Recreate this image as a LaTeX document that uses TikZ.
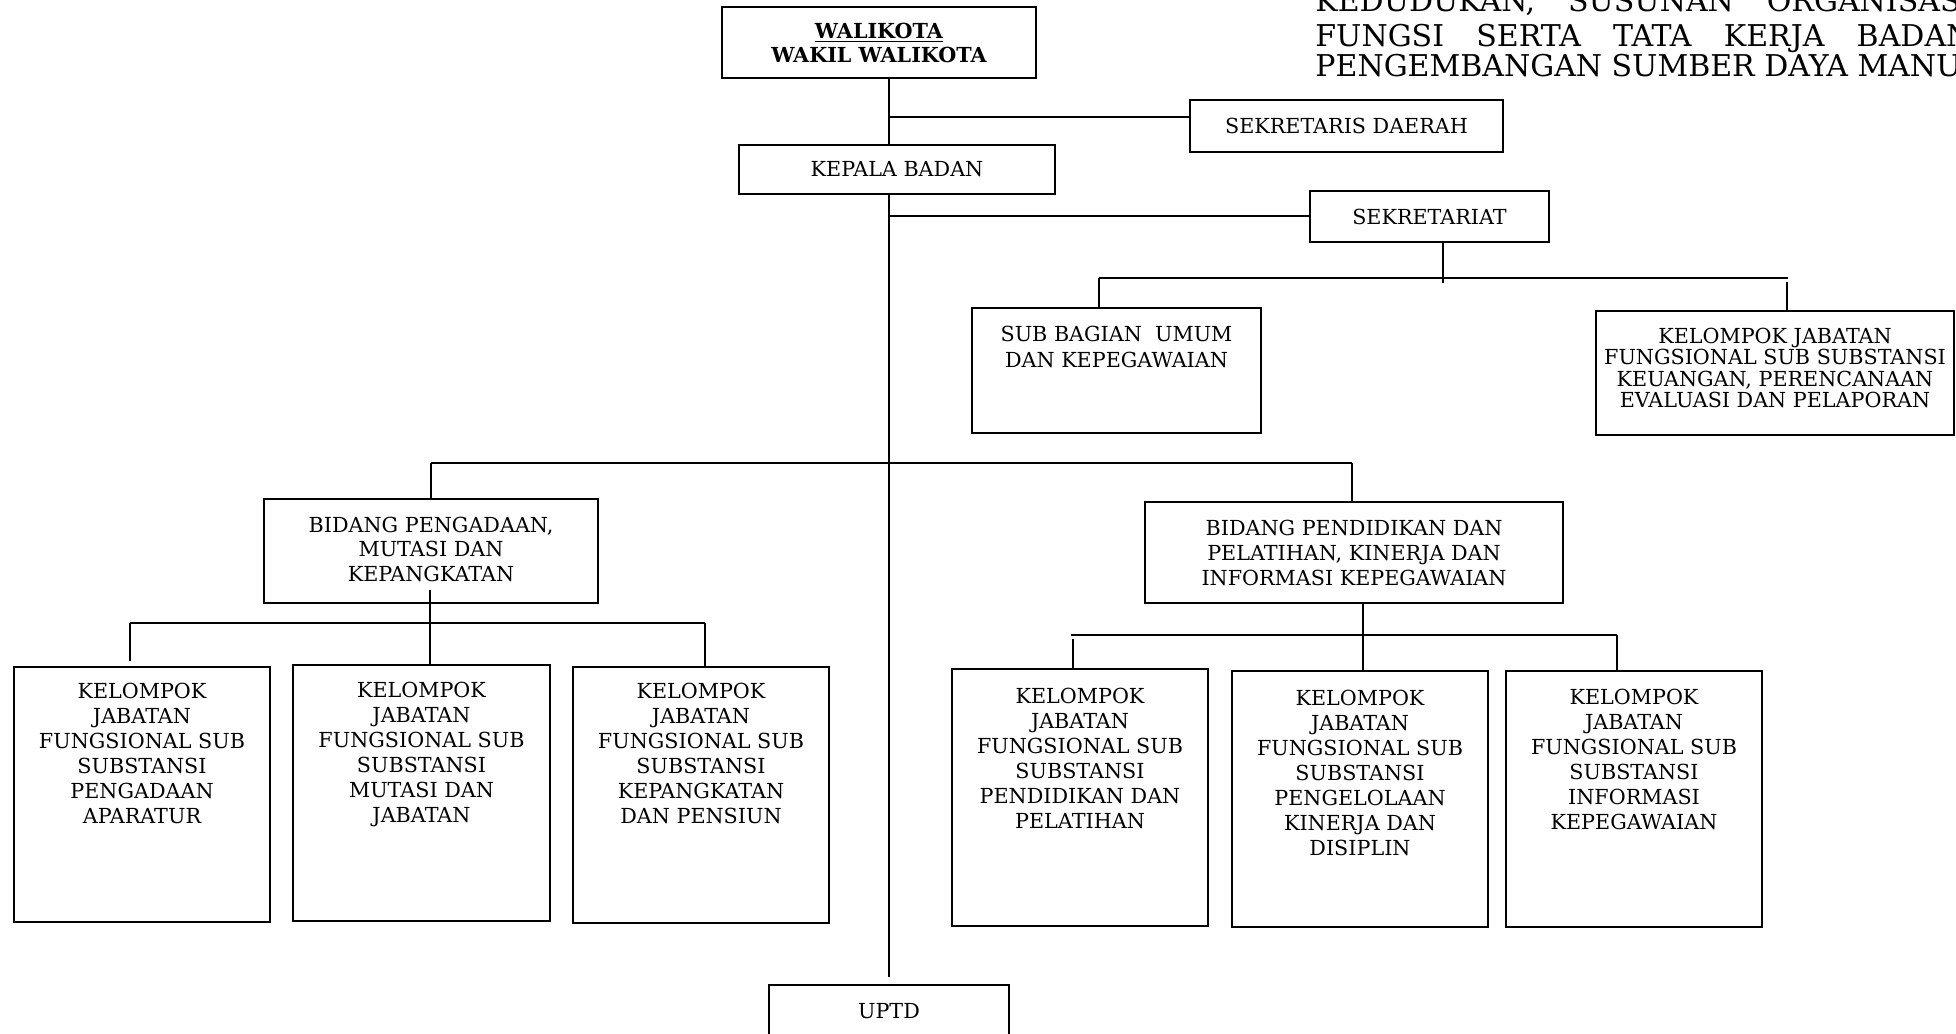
\documentclass[tikz,border=0pt]{standalone}
\usepackage{fontspec}
\setmainfont{DejaVu Serif}
\tikzset{
  orgbox/.style={draw, line width=1pt, inner sep=0pt},
  conn/.style={line width=1pt},
  titletext/.style={inner sep=0pt, font=\fontsize{15}{18}\selectfont},
}
% top-aligned box: [baselineskip]{name}{x1}{y1}{x2}{y2}{pad}{text}
\newcommand\topbox[8][12.5]{%
  \pgfmathsetmacro\bw{(#5-#3)*0.5}%
  \pgfmathsetmacro\bh{(#6-#4)*0.5}%
  \pgfmathsetmacro\ph{(#6-#4-2*#7)*0.5}%
  \node[orgbox, minimum width=\bw pt, minimum height=\bh pt] (#2) at ({(#3+#5)/2},{(#4+#6)/2})
    {\fontsize{10.35}{#1}\selectfont\parbox[c][\ph pt][t]{\bw pt}{\centering #8}};}
% vertically centred box: [baselineskip]{name}{x1}{y1}{x2}{y2}{text}
\newcommand\midbox[7][12.5]{%
  \pgfmathsetmacro\bw{(#5-#3)*0.5}%
  \pgfmathsetmacro\bh{(#6-#4)*0.5}%
  \node[orgbox, minimum width=\bw pt, minimum height=\bh pt, align=center,
        font=\fontsize{10.35}{#1}\selectfont] (#2) at ({(#3+#5)/2},{(#4+#6)/2}) {#7};}
\begin{document}
\begin{tikzpicture}[x=0.5pt,y=-0.5pt]
\useasboundingbox (0,0) rectangle (1956,1034);
\clip (0,0) rectangle (1956,1034);

% title (cut off at the right)
\node[titletext, anchor=base west] (title1) at (1315,11)
  {\hbox to 328.5pt{KEDUDUKAN,\hfill SUSUNAN\hfill ORGANISASI}};
\node[titletext, anchor=base west] (title2) at (1315,46)
  {\hbox to 328.5pt{FUNGSI\hfill SERTA\hfill TATA\hfill KERJA\hfill BADAN}};
\node[titletext, anchor=base west] (title3) at (1315,76)
  {PENGEMBANGAN SUMBER DAYA MANUSIA};

% boxes
\midbox[12]{wali}{722}{7}{1036}{78}{{\bfseries\underline{WALIKOTA}}\\{\bfseries WAKIL WALIKOTA}}
\midbox{sekda}{1190}{100}{1503}{152}{SEKRETARIS DAERAH}
\midbox{kepala}{739}{145}{1055}{194}{KEPALA BADAN}
\midbox{sekret}{1310}{191}{1549}{242}{SEKRETARIAT}
\topbox[13]{sub}{972}{308}{1261}{433}{18}{SUB BAGIAN\ \ UMUM\\DAN KEPEGAWAIAN}
\topbox[10.75]{kel}{1596}{311}{1954}{435}{17}{KELOMPOK JABATAN\\FUNGSIONAL SUB SUBSTANSI\\KEUANGAN, PERENCANAAN\\EVALUASI DAN PELAPORAN}
\topbox[12.25]{bpeng}{264}{499}{598}{603}{18}{BIDANG PENGADAAN,\\MUTASI DAN\\KEPANGKATAN}
\topbox{bpend}{1145}{502}{1563}{603}{18}{BIDANG PENDIDIKAN DAN\\PELATIHAN, KINERJA DAN\\INFORMASI KEPEGAWAIAN}
\topbox{ka}{14}{667}{270}{922}{16}{KELOMPOK\\JABATAN\\FUNGSIONAL SUB\\SUBSTANSI\\PENGADAAN\\APARATUR}
\topbox{kb}{293}{665}{550}{921}{17}{KELOMPOK\\JABATAN\\FUNGSIONAL SUB\\SUBSTANSI\\MUTASI DAN\\JABATAN}
\topbox{kc}{573}{667}{829}{923}{16}{KELOMPOK\\JABATAN\\FUNGSIONAL SUB\\SUBSTANSI\\KEPANGKATAN\\DAN PENSIUN}
\topbox{pa}{952}{669}{1208}{926}{19}{KELOMPOK\\JABATAN\\FUNGSIONAL SUB\\SUBSTANSI\\PENDIDIKAN DAN\\PELATIHAN}
\topbox{pb}{1232}{671}{1488}{927}{19}{KELOMPOK\\JABATAN\\FUNGSIONAL SUB\\SUBSTANSI\\PENGELOLAAN\\KINERJA DAN\\DISIPLIN}
\topbox{pc}{1506}{671}{1762}{927}{18}{KELOMPOK\\JABATAN\\FUNGSIONAL SUB\\SUBSTANSI\\INFORMASI\\KEPEGAWAIAN}
\topbox{uptd}{769}{985}{1009}{1062}{18}{UPTD}

% connector coordinates
\coordinate (trunk) at (889,0);
\coordinate (tEnd) at (889,977);
\coordinate (j1) at (889,117);
\coordinate (j2) at (889,216);
\coordinate (s0) at (1443,283);
\coordinate (sL) at (1099,278);
\coordinate (sR) at (1788,278);
\coordinate (sR2) at (1787,282);
\coordinate (bL) at (431,463);
\coordinate (bR) at (1352,463);
\coordinate (g1) at (430,590);
\coordinate (gL) at (130,623);
\coordinate (gL2) at (130,661);
\coordinate (gR) at (705,623);
\coordinate (h1) at (1363,635);
\coordinate (hL) at (1071,635);
\coordinate (hL2) at (1073,639);
\coordinate (hR) at (1617,635);

% connectors
\draw[conn] (wali.south -| trunk) -- (kepala.north -| trunk);
\draw[conn] (j1) -- (j1 -| sekda.west);
\draw[conn] (kepala.south -| trunk) -- (tEnd);
\draw[conn] (j2) -- (j2 -| sekret.west);
\draw[conn] (sekret.south -| s0) -- (s0);
\draw[conn] (sL) -- (sR);
\draw[conn] (sL) -- (sL |- sub.north);
\draw[conn] (sR2) -- (sR2 |- kel.north);
\draw[conn] (bL) -- (bR);
\draw[conn] (bL) -- (bL |- bpeng.north);
\draw[conn] (bR) -- (bR |- bpend.north);
\draw[conn] (g1) -- (g1 |- kb.north);
\draw[conn] (gL) -- (gR);
\draw[conn] (gL) -- (gL2);
\draw[conn] (gR) -- (gR |- kc.north);
\draw[conn] (h1 |- bpend.south) -- (h1 |- pb.north);
\draw[conn] (hL) -- (hR);
\draw[conn] (hL2) -- (hL2 |- pa.north);
\draw[conn] (hR) -- (hR |- pc.north);
\end{tikzpicture}
\end{document}
